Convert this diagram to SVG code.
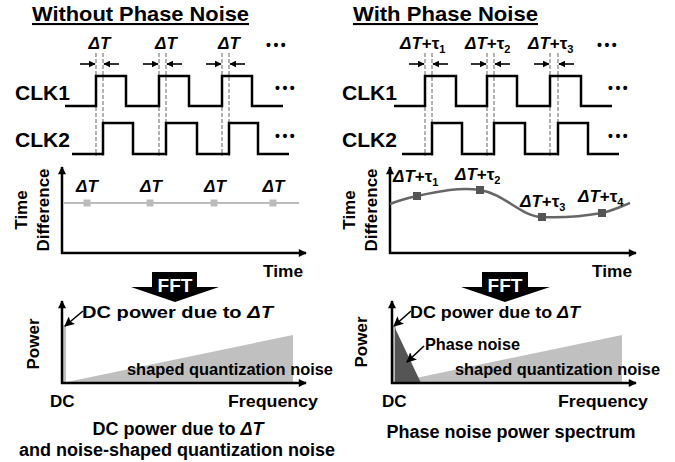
<svg xmlns="http://www.w3.org/2000/svg" width="675" height="462" viewBox="0 0 675 462">
<style>
text{font-family:"Liberation Sans",Arial,sans-serif;font-weight:bold;fill:#000}
.ttl{font-size:21px;text-decoration:underline}
.clk{font-size:20px}
.lab{font-size:17px}
.it{font-style:italic}
.dots{font-size:14px;letter-spacing:2.5px}
.cap{font-size:18px}
.wave{fill:none;stroke:#000;stroke-width:2.5}
.dash{stroke:#999;stroke-width:1.5;stroke-dasharray:4 2;fill:none}
.axis{stroke:#000;stroke-width:2.5;fill:none}
.arr{stroke:#000;stroke-width:1.6;fill:none}
</style>
<defs>
<marker id="ah" viewBox="0 0 10 10" refX="9" refY="5" markerWidth="9" markerHeight="8" markerUnits="userSpaceOnUse" orient="auto">
<path d="M0,0 L10,5 L0,10 Z" fill="#000"/>
</marker>
<marker id="sa" viewBox="0 0 10 10" refX="9" refY="5" markerWidth="7" markerHeight="7" markerUnits="userSpaceOnUse" orient="auto">
<path d="M0,0 L10,5 L0,10 Z" fill="#000"/>
</marker>
<marker id="ba" viewBox="0 0 10 10" refX="9" refY="5" markerWidth="10" markerHeight="10" markerUnits="userSpaceOnUse" orient="auto">
<path d="M0,0 L10,5 L0,10 L2,5 Z" fill="#000"/>
</marker>
</defs>

<!-- LEFT: Without Phase Noise -->
<g id="left-title"><text class="ttl" x="32" y="21" textLength="217" lengthAdjust="spacingAndGlyphs">Without Phase Noise</text></g>

<g id="left-clocks">
<line class="dash" x1="96" y1="53" x2="96" y2="156"/>
<line class="dash" x1="103" y1="53" x2="103" y2="156"/>
<line class="dash" x1="159" y1="53" x2="159" y2="156"/>
<line class="dash" x1="166" y1="53" x2="166" y2="156"/>
<line class="dash" x1="222" y1="53" x2="222" y2="156"/>
<line class="dash" x1="229" y1="53" x2="229" y2="156"/>
<path class="wave" d="M65,106 H96 V76 H126 V106 H159 V76 H189 V106 H222 V76 H252 V106 H283"/>
<path class="wave" d="M72,154 H103 V123 H133 V154 H166 V123 H197 V154 H229 V123 H258 V154 H289"/>
<text class="clk" x="15" y="100" textLength="55" lengthAdjust="spacingAndGlyphs">CLK1</text>
<text class="clk" x="15" y="147" textLength="55" lengthAdjust="spacingAndGlyphs">CLK2</text>
<text class="lab it" x="99.5" y="49" text-anchor="middle">ΔT</text>
<text class="lab it" x="166" y="49" text-anchor="middle">ΔT</text>
<text class="lab it" x="229" y="49" text-anchor="middle">ΔT</text>
<text class="dots" x="266" y="50">•••</text>
<text class="dots" x="275" y="93">•••</text>
<text class="dots" x="275" y="141">•••</text>
<line class="arr" x1="80" y1="64" x2="95" y2="64" marker-end="url(#sa)"/>
<line class="arr" x1="119" y1="64" x2="104" y2="64" marker-end="url(#sa)"/>
<line class="arr" x1="143" y1="64" x2="158" y2="64" marker-end="url(#sa)"/>
<line class="arr" x1="182" y1="64" x2="167" y2="64" marker-end="url(#sa)"/>
<line class="arr" x1="206" y1="64" x2="221" y2="64" marker-end="url(#sa)"/>
<line class="arr" x1="245" y1="64" x2="230" y2="64" marker-end="url(#sa)"/>
</g>

<g id="left-timediff">
<line class="axis" x1="62" y1="254" x2="62" y2="167" marker-end="url(#ah)"/>
<line class="axis" x1="61" y1="253" x2="306" y2="253" marker-end="url(#ah)"/>
<line x1="63" y1="203" x2="299" y2="203" stroke="#bbb" stroke-width="2"/>
<rect x="83.5" y="199.5" width="7" height="7" fill="#bbb"/>
<rect x="146.5" y="199.5" width="7" height="7" fill="#bbb"/>
<rect x="210.5" y="199.5" width="7" height="7" fill="#bbb"/>
<rect x="269.5" y="199.5" width="7" height="7" fill="#bbb"/>
<text class="lab it" x="87" y="192" text-anchor="middle">ΔT</text>
<text class="lab it" x="151" y="192" text-anchor="middle">ΔT</text>
<text class="lab it" x="215" y="192" text-anchor="middle">ΔT</text>
<text class="lab it" x="273.5" y="192" text-anchor="middle">ΔT</text>
<text class="lab" transform="translate(27,210) rotate(-90)" text-anchor="middle">Time</text>
<text class="lab" transform="translate(49,210) rotate(-90)" text-anchor="middle">Difference</text>
<text class="lab" x="263" y="277" textLength="40" lengthAdjust="spacingAndGlyphs">Time</text>
</g>

<g id="left-fft">
<path d="M152,272 H197 V287 H219 L175,302 L131,287 H152 Z" fill="#000"/>
<text x="175" y="292" text-anchor="middle" style="font-size:19px;fill:#fff">FFT</text>
</g>

<g id="left-spectrum">
<polygon points="62,383 293,335 293,383" fill="#c0c0c0"/>
<rect x="62" y="325" width="4" height="58" fill="#c0c0c0"/>
<line class="axis" x1="62" y1="384" x2="62" y2="301" marker-end="url(#ah)"/>
<line class="axis" x1="61" y1="383" x2="306" y2="383" marker-end="url(#ah)"/>
<line class="arr" x1="83" y1="311" x2="65" y2="326" marker-end="url(#ba)"/>
<text class="lab" x="82" y="318" textLength="191" lengthAdjust="spacingAndGlyphs">DC power due to <tspan class="it">ΔT</tspan></text>
<text class="lab" x="127" y="375" textLength="206" lengthAdjust="spacingAndGlyphs">shaped quantization noise</text>
<text class="lab" transform="translate(39,344) rotate(-90)" text-anchor="middle">Power</text>
<text class="lab" x="50" y="407">DC</text>
<text class="lab" x="228" y="407" textLength="90" lengthAdjust="spacingAndGlyphs">Frequency</text>
<text class="cap" x="178" y="435" text-anchor="middle">DC power due to <tspan class="it">ΔT</tspan></text>
<text class="cap" x="177" y="456" text-anchor="middle">and noise-shaped quantization noise</text>
</g>

<!-- RIGHT: With Phase Noise -->
<g id="right-title"><text class="ttl" x="353" y="21" textLength="185" lengthAdjust="spacingAndGlyphs">With Phase Noise</text></g>

<g id="right-clocks">
<line class="dash" x1="425" y1="53" x2="425" y2="156"/>
<line class="dash" x1="432" y1="53" x2="432" y2="156"/>
<line class="dash" x1="487" y1="53" x2="487" y2="156"/>
<line class="dash" x1="494" y1="53" x2="494" y2="156"/>
<line class="dash" x1="550" y1="53" x2="550" y2="156"/>
<line class="dash" x1="558" y1="53" x2="558" y2="156"/>
<path class="wave" d="M394,106 H425 V76 H456 V106 H487 V76 H517 V106 H550 V76 H581 V106 H612"/>
<path class="wave" d="M402,154 H432 V123 H462 V154 H494 V123 H525 V154 H558 V123 H588 V154 H619"/>
<text class="clk" x="342" y="100" textLength="55" lengthAdjust="spacingAndGlyphs">CLK1</text>
<text class="clk" x="342" y="147" textLength="55" lengthAdjust="spacingAndGlyphs">CLK2</text>
<text class="lab" x="400" y="49"><tspan class="it">ΔT</tspan>+τ<tspan font-size="11" dy="4">1</tspan></text>
<text class="lab" x="465" y="49"><tspan class="it">ΔT</tspan>+τ<tspan font-size="11" dy="4">2</tspan></text>
<text class="lab" x="528" y="49"><tspan class="it">ΔT</tspan>+τ<tspan font-size="11" dy="4">3</tspan></text>
<text class="dots" x="597" y="50">•••</text>
<text class="dots" x="608" y="93">•••</text>
<text class="dots" x="608" y="141">•••</text>
<line class="arr" x1="409" y1="64" x2="424" y2="64" marker-end="url(#sa)"/>
<line class="arr" x1="448" y1="64" x2="433" y2="64" marker-end="url(#sa)"/>
<line class="arr" x1="471" y1="64" x2="486" y2="64" marker-end="url(#sa)"/>
<line class="arr" x1="510" y1="64" x2="495" y2="64" marker-end="url(#sa)"/>
<line class="arr" x1="534" y1="64" x2="549" y2="64" marker-end="url(#sa)"/>
<line class="arr" x1="574" y1="64" x2="559" y2="64" marker-end="url(#sa)"/>
</g>

<g id="right-timediff">
<line class="axis" x1="390" y1="254" x2="390" y2="167" marker-end="url(#ah)"/>
<line class="axis" x1="389" y1="253" x2="636" y2="253" marker-end="url(#ah)"/>
<path d="M390,204 C400,200 408,198 417,196 C440,191 460,187 480,190 C505,194 520,216 542,217 C565,218 585,216 602,213 C615,210 622,206 630,203" fill="none" stroke="#666" stroke-width="2.5"/>
<rect x="413" y="192" width="8" height="8" fill="#555"/>
<rect x="476" y="186" width="8" height="8" fill="#555"/>
<rect x="538" y="213" width="8" height="8" fill="#555"/>
<rect x="598" y="209" width="8" height="8" fill="#555"/>
<text class="lab" x="393" y="182"><tspan class="it">ΔT</tspan>+τ<tspan font-size="11" dy="4">1</tspan></text>
<text class="lab" x="455" y="180"><tspan class="it">ΔT</tspan>+τ<tspan font-size="11" dy="4">2</tspan></text>
<text class="lab" x="520" y="207"><tspan class="it">ΔT</tspan>+τ<tspan font-size="11" dy="4">3</tspan></text>
<text class="lab" x="578" y="202"><tspan class="it">ΔT</tspan>+τ<tspan font-size="11" dy="4">4</tspan></text>
<text class="lab" transform="translate(355,210) rotate(-90)" text-anchor="middle">Time</text>
<text class="lab" transform="translate(377,210) rotate(-90)" text-anchor="middle">Difference</text>
<text class="lab" x="592" y="277" textLength="40" lengthAdjust="spacingAndGlyphs">Time</text>
</g>

<g id="right-fft">
<path d="M482,272 H528 V287 H550 L505,302 L461,287 H482 Z" fill="#000"/>
<text x="505" y="292" text-anchor="middle" style="font-size:19px;fill:#fff">FFT</text>
</g>

<g id="right-spectrum">
<polygon points="392,383 622,335 622,383" fill="#c0c0c0"/>
<rect x="392" y="326" width="4" height="57" fill="#bbb"/>
<polygon points="395,328 421,383 395,383" fill="#555"/>
<line class="axis" x1="392" y1="384" x2="392" y2="301" marker-end="url(#ah)"/>
<line class="axis" x1="391" y1="383" x2="636" y2="383" marker-end="url(#ah)"/>
<line class="arr" x1="411" y1="311" x2="394" y2="326" marker-end="url(#ba)"/>
<line class="arr" x1="424" y1="346" x2="407" y2="362" marker-end="url(#ba)"/>
<text class="lab" x="410" y="318" textLength="170" lengthAdjust="spacingAndGlyphs">DC power due to <tspan class="it">ΔT</tspan></text>
<text class="lab" x="425" y="350" textLength="95" lengthAdjust="spacingAndGlyphs">Phase noise</text>
<text class="lab" x="455" y="375" textLength="205" lengthAdjust="spacingAndGlyphs">shaped quantization noise</text>
<text class="lab" transform="translate(367,342) rotate(-90)" text-anchor="middle">Power</text>
<text class="lab" x="382" y="407">DC</text>
<text class="lab" x="558" y="407" textLength="90" lengthAdjust="spacingAndGlyphs">Frequency</text>
<text class="cap" x="511" y="438" text-anchor="middle">Phase noise power spectrum</text>
</g>
</svg>
